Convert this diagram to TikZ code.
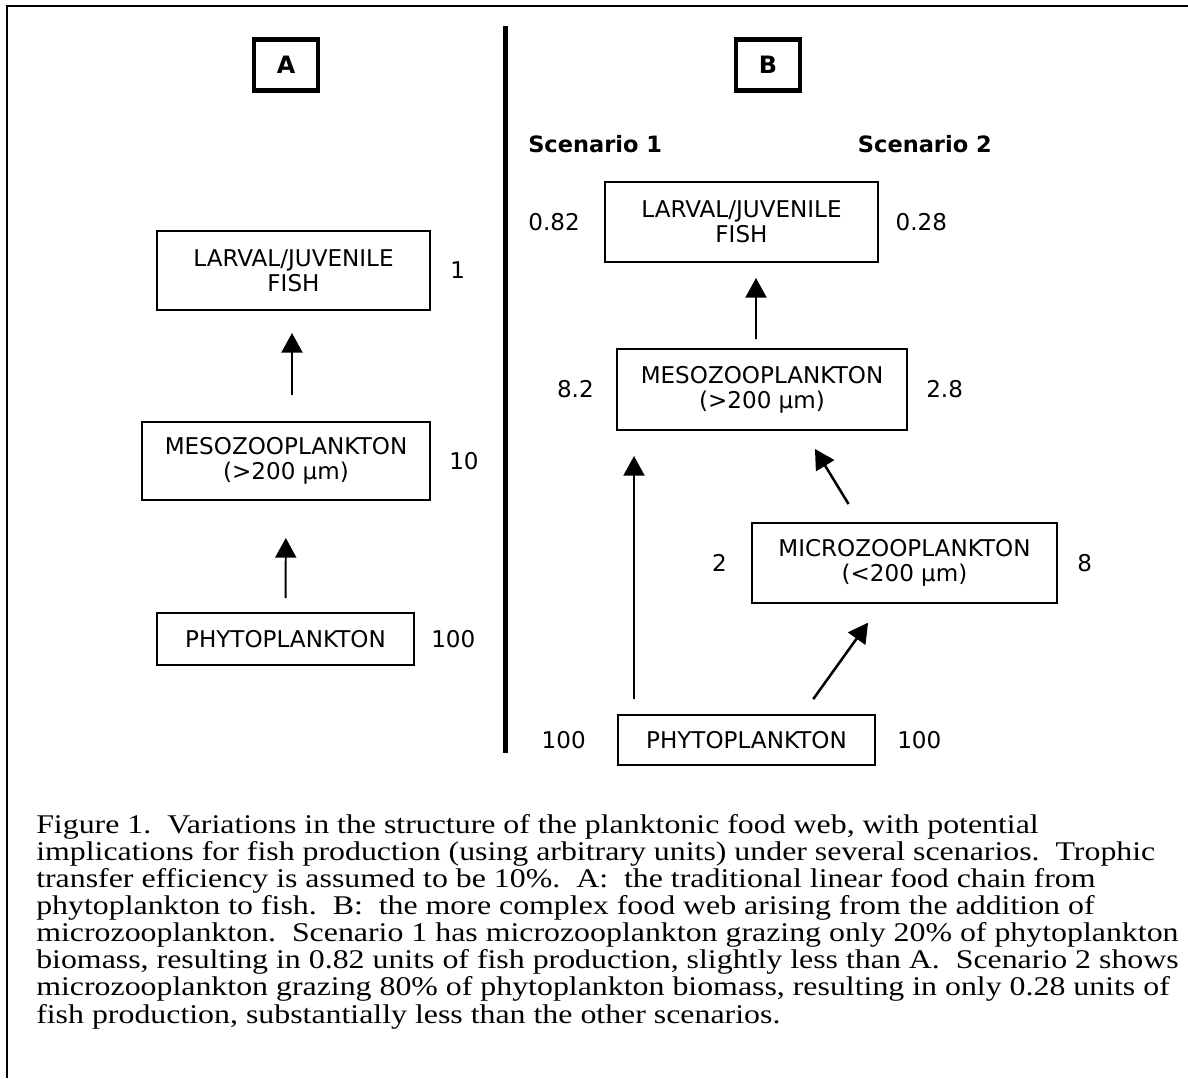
\documentclass[tikz,border=0pt]{standalone}
\usepackage{fontspec}
\setmainfont{Liberation Serif}
\setsansfont{DejaVu Sans}
\newfontfamily\capfont[FakeStretch=1.18]{Liberation Serif}
\usetikzlibrary{positioning, arrows.meta, calc}

\begin{document}
\begin{tikzpicture}[
  x=0.025cm, y=-0.025cm,
  node distance=0.45cm,
  foodbox/.style={rectangle, draw, line width=1.4pt, align=center, inner sep=0pt, font=\sffamily\fontsize{16.4}{17.8}\selectfont},
  letterbox/.style={rectangle, draw, line width=3pt, minimum width=1.585cm, minimum height=1.275cm, inner sep=0pt, font=\sffamily\bfseries\fontsize{17}{20}\selectfont},
  valtext/.style={inner sep=0pt, font=\sffamily\fontsize{16.4}{17.8}\selectfont},
  scentext/.style={inner sep=0pt, font=\sffamily\bfseries\fontsize{16}{18}\selectfont},
  arrow/.style={-{Triangle[length=14pt, width=15pt]}, line width=1.4pt}
]
\useasboundingbox (0,0) rectangle (1188,1078);

% frame and divider
\draw[line width=1.8pt] (1188,6) -- (7,6) -- (7,1078);
\draw[line width=3.6pt] (505.5,26) -- (505.5,753);

% Panel A
\node[letterbox] (boxA) at (286,65) {A};
\node[foodbox, minimum width=6.825cm, minimum height=1.975cm] (larvalA) at (293.5,270.5) {LARVAL/JUVENILE\\FISH};
\node[foodbox, minimum width=7.2cm, minimum height=1.95cm] (mesoA) at (286,461) {MESOZOOPLANKTON\\(>200 µm)};
\node[foodbox, minimum width=6.425cm, minimum height=1.3cm] (phytoA) at (285.5,639) {PHYTOPLANKTON};

\node[valtext, right=0.475cm of larvalA] (fishA) {1};
\node[valtext, right=0.45cm of mesoA] (mesoAval) {10};
\node[valtext, right=0.4cm of phytoA] (phytoAval) {100};

% Panel B
\node[letterbox] (boxB) at (768,65) {B};
\node[scentext, anchor=west] (scen1) at (528,144) {Scenario 1};
\node[scentext, anchor=east] (scen2) at (992,144) {Scenario 2};

\node[foodbox, minimum width=6.825cm, minimum height=2cm] (larvalB) at (741.5,222) {LARVAL/JUVENILE\\FISH};
\node[foodbox, minimum width=7.25cm, minimum height=2.025cm] (mesoB) at (762,389.5) {MESOZOOPLANKTON\\(>200 µm)};
\node[foodbox, minimum width=7.625cm, minimum height=2cm] (micro) at (904.5,563) {MICROZOOPLANKTON\\(<200 µm)};
\node[foodbox, minimum width=6.425cm, minimum height=1.25cm] (phytoB) at (746.5,740) {PHYTOPLANKTON};

\node[valtext, left=0.6cm of larvalB] (fishB1) {0.82};
\node[valtext, right=0.41cm of larvalB] (fishB2) {0.28};
\node[valtext, left=0.55cm of mesoB] (mesoB1) {8.2};
\node[valtext, right=0.45cm of mesoB] (mesoB2) {2.8};
\node[valtext, left=0.6cm of micro] (micro1) {2};
\node[valtext, right=0.475cm of micro] (micro2) {8};
\node[valtext, left=0.775cm of phytoB] (phytoB1) {100};
\node[valtext, right=0.525cm of phytoB] (phytoB2) {100};

% Arrows
\draw[arrow, shorten <=0.65cm, shorten >=0.55cm] ($(mesoA.north)+(6,0)$) -- ($(larvalA.south)+(-1.5,0)$);
\draw[arrow, shorten <=0.35cm, shorten >=0.925cm] (phytoA.north) -- (mesoA.south);
\draw[arrow, shorten <=0.225cm, shorten >=0.375cm] ($(mesoB.north)+(-6,0)$) -- ($(larvalB.south)+(14.5,0)$);
\draw[arrow, shorten <=0.375cm, shorten >=0.625cm] ($(phytoB.north)+(-112.5,0)$) -- ($(mesoB.south)+(-128,0)$);
\draw[arrow, line width=1.8pt, shorten <=0.525cm, shorten >=0.525cm] ($(micro.north)+(-45,0)$) -- ($(mesoB.south)+(42,0)$);
\draw[arrow, line width=1.8pt, shorten <=0.46cm, shorten >=0.575cm] ($(phytoB.north)+(56,0)$) -- ($(micro.south)+(-23,0)$);

% Caption
\node[anchor=base west, align=left, inner sep=0pt, font=\capfont\fontsize{19.2}{19.3}\selectfont] (caption) at (36,1023)
  {Figure 1.\ \ Variations in the structure of the planktonic food web, with potential\\
   implications for fish production (using arbitrary units) under several scenarios.\ \ Trophic\\
   transfer efficiency is assumed to be 10\%.\ \ A:\ \ the traditional linear food chain from\\
   phytoplankton to fish.\ \ B:\ \ the more complex food web arising from the addition of\\
   microzooplankton.\ \ Scenario 1 has microzooplankton grazing only 20\% of phytoplankton\\
   biomass, resulting in 0.82 units of fish production, slightly less than A.\ \ Scenario 2 shows\\
   microzooplankton grazing 80\% of phytoplankton biomass, resulting in only 0.28 units of\\
   fish production, substantially less than the other scenarios.};

\end{tikzpicture}
\end{document}
